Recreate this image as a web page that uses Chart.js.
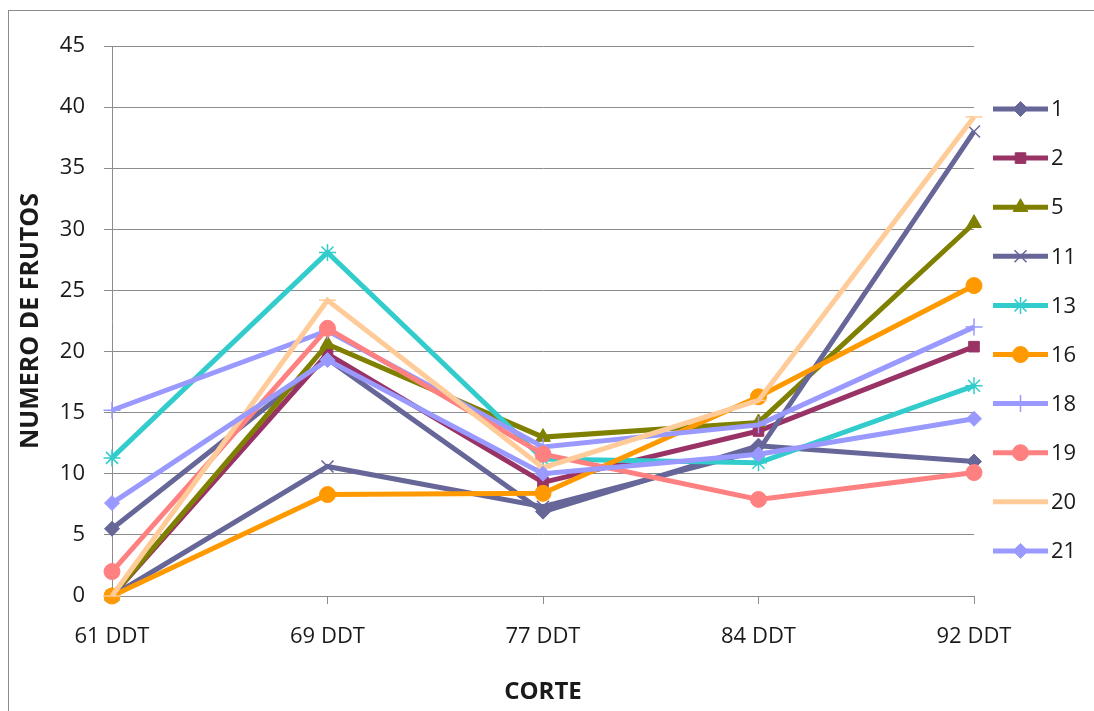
<!DOCTYPE html>
<html>
<head>
<meta charset="utf-8">
<title>Numero de frutos por corte</title>
<script src="https://cdn.jsdelivr.net/npm/chart.js@4.4.1/dist/chart.umd.min.js"></script>
<style>
  html, body { margin: 0; padding: 0; background: #fff; }
  #wrap { position: relative; width: 1094px; height: 711px; overflow: hidden; }
  #frame { position: absolute; left: 8px; top: 10px; width: 1100px; height: 720px; border: 1px solid #8c8c8c; box-sizing: border-box; pointer-events: none; }
  canvas { position: absolute; left: 0; top: 0; }
</style>
</head>
<body>
<div id="wrap">
  <canvas id="chart" width="1094" height="711"></canvas>
  <div id="frame"></div>
</div>
<script>
// Harvest dates (days after transplant)
const categories = ['61 DDT', '69 DDT', '77 DDT', '84 DDT', '92 DDT'];

// Fruits counted per line at each harvest
const linea1  = [5.5, 19.4, 6.9, 12.3, 11.0];
const linea2  = [0, 19.8, 9.3, 13.5, 20.4];
const linea5  = [0, 20.6, 13.0, 14.2, 30.5];
const linea11 = [0, 10.6, 7.3, 11.9, 38.0];
const linea13 = [11.3, 28.1, 11.2, 10.9, 17.2];
const linea16 = [0, 8.3, 8.4, 16.3, 25.4];
const linea18 = [15.2, 21.7, 12.2, 14.0, 22.0];
const linea19 = [2.0, 21.9, 11.6, 7.9, 10.1];
const linea20 = [0, 24.2, 10.5, 16.0, 39.2];
const linea21 = [7.6, 19.3, 10.0, 11.6, 14.5];

// Y axis tick values
const yTicks = [0, 5, 10, 15, 20, 25, 30, 35, 40, 45];

const seriesNames = ['1', '2', '5', '11', '13', '16', '18', '19', '20', '21'];
const seriesData = [linea1, linea2, linea5, linea11, linea13, linea16, linea18, linea19, linea20, linea21];
const seriesColors = ['#666699', '#993366', '#808000', '#666699', '#33CCCC', '#FF9900', '#9999FF', '#FF8080', '#FFCC99', '#9999FF'];
const seriesMarkers = ['rectRot', 'rect', 'triangle', 'crossRot', 'star', 'circle', 'cross', 'circle', 'line', 'rectRot'];

const FONT = "'Open Sans', 'Liberation Sans', sans-serif";

function markerRadius(style) {
  if (style === 'rect') return 7.5;
  if (style === 'triangle') return 8.5;
  if (style === 'circle') return 8;
  if (style === 'rectRot') return 7.5;
  return 8.5;
}
function markerBorder(style) {
  if (style === 'crossRot' || style === 'star' || style === 'cross' || style === 'line') return 1.5;
  return 1;
}

const datasets = seriesNames.map((name, i) => ({
  label: name,
  data: seriesData[i],
  borderColor: seriesColors[i],
  backgroundColor: seriesColors[i],
  borderWidth: 5,
  pointStyle: seriesMarkers[i],
  pointRadius: markerRadius(seriesMarkers[i]),
  pointHoverRadius: markerRadius(seriesMarkers[i]),
  pointBorderWidth: markerBorder(seriesMarkers[i]),
  pointBorderColor: seriesColors[i],
  pointBackgroundColor: seriesColors[i],
  tension: 0,
  clip: false,
  order: seriesNames.length - i
}));

// Legend drawn at the right: a line segment with the marker in its middle
const sideLegend = {
  id: 'sideLegend',
  afterDraw(chart) {
    const ctx = chart.ctx;
    const x0 = 993, x1 = 1048, top = 109, step = 49.1;
    ctx.save();
    chart.data.datasets.forEach((ds, i) => {
      const y = top + i * step;
      ctx.strokeStyle = ds.borderColor;
      ctx.lineWidth = 5;
      ctx.lineCap = 'butt';
      ctx.beginPath();
      ctx.moveTo(x0, y);
      ctx.lineTo(x1, y);
      ctx.stroke();
      ctx.fillStyle = ds.pointBackgroundColor;
      ctx.strokeStyle = ds.pointBorderColor;
      ctx.lineWidth = ds.pointBorderWidth;
      Chart.helpers.drawPoint(ctx, {
        pointStyle: ds.pointStyle,
        radius: ds.pointRadius,
        borderWidth: ds.pointBorderWidth,
        rotation: 0
      }, (x0 + x1) / 2, y);
      ctx.fillStyle = '#1a1a1a';
      ctx.font = '22px ' + FONT;
      ctx.textAlign = 'left';
      ctx.textBaseline = 'middle';
      ctx.fillText(ds.label, 1051, y + 1);
    });
    ctx.restore();
  }
};

new Chart(document.getElementById('chart'), {
  type: 'line',
  data: { labels: categories, datasets: datasets },
  plugins: [sideLegend],
  options: {
    responsive: false,
    animation: false,
    events: [],
    layout: { padding: { left: 14, top: 46, right: 120, bottom: 0 } },
    plugins: {
      legend: { display: false },
      tooltip: { enabled: false },
      title: { display: false }
    },
    scales: {
      x: {
        type: 'category',
        offset: false,
        afterFit(scale) { scale.height = 115; },
        grid: { drawOnChartArea: false, drawTicks: true, tickLength: 8, color: '#8c8c8c', lineWidth: 1 },
        border: { display: true, color: '#8c8c8c', width: 1 },
        ticks: { color: '#1a1a1a', font: { family: FONT, size: 22 }, padding: 20, maxRotation: 0, autoSkip: false },
        title: {
          display: true, text: 'CORTE', color: '#1a1a1a',
          font: { family: FONT, size: 24, weight: 'bold' },
          padding: { top: 0, bottom: 4 }
        }
      },
      y: {
        min: 0, max: 45,
        afterFit(scale) { scale.width = 98; },
        afterBuildTicks(scale) { scale.ticks = yTicks.map(v => ({ value: v })); },
        grid: { drawOnChartArea: true, drawTicks: true, tickLength: 8, color: '#8c8c8c', lineWidth: 1 },
        border: { display: true, color: '#8c8c8c', width: 1 },
        ticks: { color: '#1a1a1a', font: { family: FONT, size: 22 }, padding: 19 },
        title: {
          display: true, text: 'NUMERO DE FRUTOS', color: '#1a1a1a',
          font: { family: FONT, size: 25, weight: 'bold' },
          padding: { top: 2, bottom: 0 }
        }
      }
    }
  }
});
</script>
</body>
</html>
